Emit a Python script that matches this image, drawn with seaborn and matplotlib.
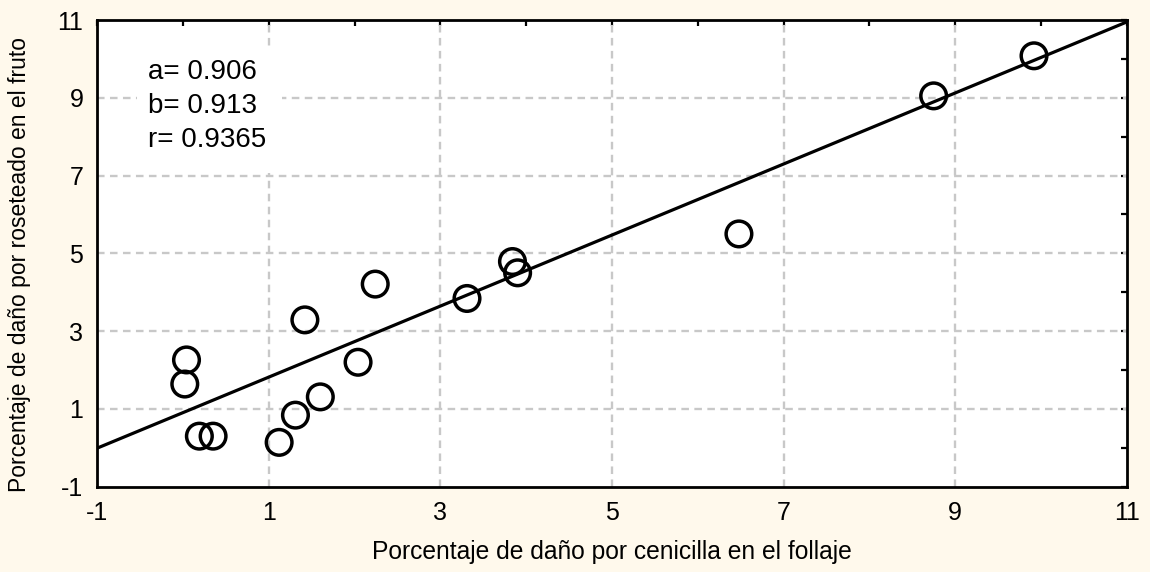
import numpy as np
import pandas as pd
import seaborn as sns
import matplotlib
matplotlib.use("Agg")
import matplotlib.pyplot as plt
from matplotlib.ticker import MultipleLocator
from matplotlib.patches import Rectangle

# Observed damage percentages per plot
cenicilla = [0.04, 0.02, 0.19, 0.35, 1.12, 1.31, 1.60, 1.42, 2.04, 2.24,
             3.31, 3.84, 3.90, 6.48, 8.75, 9.92]
roseteado = [2.26, 1.64, 0.30, 0.30, 0.14, 0.84, 1.31, 3.29, 2.20, 4.21,
             3.84, 4.79, 4.50, 5.50, 9.05, 10.08]

# Fitted regression: y = a + b * x
a_coef = 0.906
b_coef = 0.913
r_coef = 0.9365

x_ticks = [-1, 1, 3, 5, 7, 9, 11]
y_ticks = [-1, 1, 3, 5, 7, 9, 11]

x_label = "Porcentaje de daño por cenicilla en el follaje"
y_label = "Porcentaje de daño por roseteado en el fruto"

df = pd.DataFrame({"x": cenicilla, "y": roseteado})

sns.set_theme(style="white")
plt.rcParams["font.family"] = ["Liberation Sans", "DejaVu Sans"]
plt.rcParams["axes.unicode_minus"] = False

bg = "#FFF9EC"
fig = plt.figure(figsize=(11.5, 5.72), dpi=100, facecolor=bg)
ax = fig.add_axes([0.0846, 0.1491, 0.8951, 0.8159])
ax.set_facecolor("white")

# Regression line across the full x range
line_x = np.array([x_ticks[0], x_ticks[-1]], dtype=float)
line_df = pd.DataFrame({"x": line_x, "y": a_coef + b_coef * line_x})
sns.lineplot(data=line_df, x="x", y="y", ax=ax, color="black", linewidth=2.3, zorder=3)

sns.scatterplot(data=df, x="x", y="y", ax=ax, s=340, facecolor="none",
                edgecolor="black", linewidth=2.5, zorder=4)

ax.set_xlim(x_ticks[0], x_ticks[-1])
ax.set_ylim(y_ticks[0], y_ticks[-1])
ax.set_xticks(x_ticks)
ax.set_yticks(y_ticks)
ax.xaxis.set_minor_locator(MultipleLocator(1))
ax.yaxis.set_minor_locator(MultipleLocator(1))
ax.tick_params(which="both", direction="in", top=True, right=True,
               length=4, width=1.6, color="black", labelsize=18, pad=10,
               labelcolor="black")

# Dashed grid at inner major ticks
for v in x_ticks[1:-1]:
    ax.axvline(v, color="#C8C8C8", linestyle=(0, (3.2, 2.3)), linewidth=1.7, zorder=1)
for v in y_ticks[1:-1]:
    ax.axhline(v, color="#C8C8C8", linestyle=(0, (3.2, 2.3)), linewidth=1.7, zorder=1)
ax.grid(False)

for sp in ax.spines.values():
    sp.set_visible(True)
    sp.set_color("black")
    sp.set_linewidth(2.0)

ax.set_xlabel(x_label, fontsize=17.7, color="black", va="center")
ax.xaxis.set_label_coords(0.5, -0.14)
ax.set_ylabel(y_label, fontsize=16.5, color="black", va="center")
ax.yaxis.set_label_coords(-0.0751, 0.477)

# Coefficient block on a white panel
ax.add_patch(Rectangle((0.0386, 0.6722), 0.1408, 0.2635, transform=ax.transAxes,
                       facecolor="white", edgecolor="none", zorder=2))
stat_lines = [f"a= {a_coef:.3f}", f"b= {b_coef:.3f}", f"r= {r_coef:.4f}"]
for txt, yy in zip(stat_lines, [0.8886, 0.8157, 0.7429]):
    ax.text(0.0493, yy, txt, transform=ax.transAxes, fontsize=20, va="center",
            ha="left", color="black", zorder=5)

fig.savefig("out.png", dpi=100, facecolor=bg)
